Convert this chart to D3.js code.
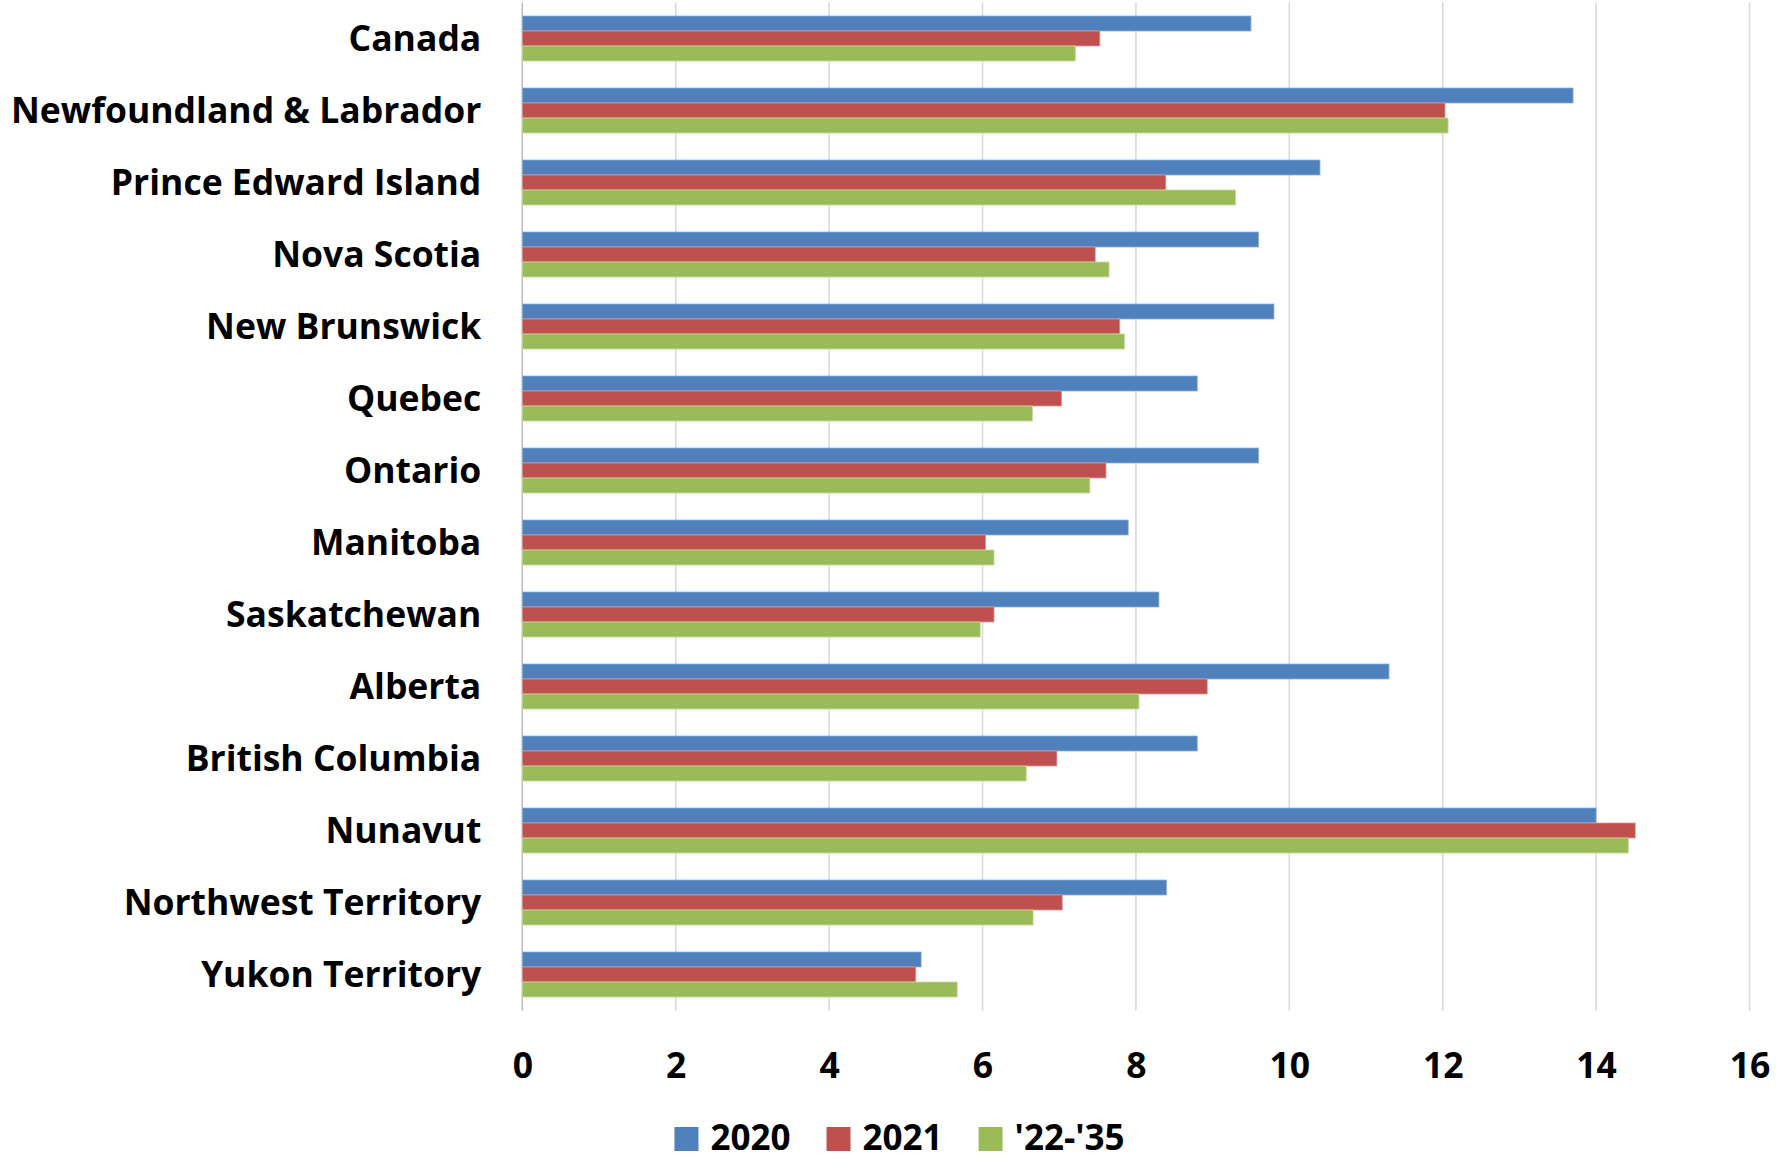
<!DOCTYPE html>
<html>
<head>
<meta charset="utf-8">
<script src="https://cdn.jsdelivr.net/npm/d3@7"></script>
<style>
  html, body { margin: 0; padding: 0; background: #fff; }
  svg { display: block; }
  text { font-family: "Open Sans", Lato, sans-serif; font-weight: bold; fill: #000; }
</style>
</head>
<body>
<svg id="chart" width="1788" height="1160"></svg>
<script>
const categories = ["Canada", "Newfoundland & Labrador", "Prince Edward Island", "Nova Scotia",
  "New Brunswick", "Quebec", "Ontario", "Manitoba", "Saskatchewan", "Alberta",
  "British Columbia", "Nunavut", "Northwest Territory", "Yukon Territory"];
const seriesNames = ["2020", "2021", "'22-'35"];
const values2020 = [9.5, 13.7, 10.4, 9.6, 9.8, 8.8, 9.6, 7.9, 8.3, 11.3, 8.8, 14.0, 8.4, 5.2];
const values2021 = [7.53, 12.03, 8.39, 7.47, 7.79, 7.03, 7.61, 6.04, 6.15, 8.93, 6.97, 14.51, 7.04, 5.13];
const values2235 = [7.21, 12.07, 9.3, 7.65, 7.85, 6.65, 7.4, 6.15, 5.97, 8.04, 6.57, 14.42, 6.66, 5.67];
const xTicks = [0, 2, 4, 6, 8, 10, 12, 14, 16];
const colors = ["#4F81BD", "#C0504D", "#9BBB59"];
const strokes = ["#8FB0D8", "#DC9896", "#C5DB9C"];

const seriesValues = [values2020, values2021, values2235];
const rows = categories.map((c, i) => ({
  cat: c,
  vals: seriesNames.map((s, j) => ({ s, j, v: seriesValues[j][i] }))
}));

const FONT = "'Open Sans', Lato, sans-serif";
const svg = d3.select("#chart");
const mLeft = 522.3, mRight = 1749.5, mTop = 2.5, mBottom = 1010.5;

const x = d3.scaleLinear().domain([0, 16]).range([mLeft, mRight]);
const y0 = d3.scaleBand().domain(categories).range([mTop, mBottom]).paddingInner(0.375).paddingOuter(0.1875);
const y1 = d3.scaleBand().domain(seriesNames).range([0, y0.bandwidth()]);

// gridlines
svg.append("g").selectAll("line").data(xTicks).join("line")
  .attr("x1", d => x(d)).attr("x2", d => x(d))
  .attr("y1", mTop).attr("y2", mBottom)
  .attr("stroke", d => d === 0 ? "#BFBFBF" : "#D9D9D9")
  .attr("stroke-width", 1.6);

// bars
const g = svg.append("g").selectAll("g").data(rows).join("g")
  .attr("transform", d => `translate(0,${y0(d.cat)})`);
g.selectAll("rect").data(d => d.vals).join("rect")
  .attr("x", x(0))
  .attr("y", d => y1(d.s))
  .attr("width", d => x(d.v) - x(0))
  .attr("height", y1.bandwidth())
  .attr("fill", d => colors[d.j])
  .attr("stroke", d => strokes[d.j])
  .attr("stroke-width", 0.8);

// category labels
const yAxis = d3.axisLeft(y0).tickSize(0).tickPadding(41);
const ya = svg.append("g").attr("transform", `translate(${x(0)},0)`).call(yAxis);
ya.select(".domain").remove();
ya.selectAll("text").attr("font-size", 35.5).attr("font-family", FONT)
  .attr("font-weight", "bold").attr("fill", "#000").attr("dy", "0.35em");

// x axis tick labels
const xAxis = d3.axisBottom(x).tickValues(xTicks).tickSize(0).tickPadding(0).tickFormat(d3.format("d"));
const xa = svg.append("g").attr("transform", `translate(0,1078)`).call(xAxis);
xa.select(".domain").remove();
xa.selectAll("text").attr("font-size", 35.5).attr("font-family", FONT)
  .attr("font-weight", "bold").attr("fill", "#000").attr("y", 0).attr("dy", 0);

// legend
const legend = svg.append("g");
const items = legend.selectAll("g").data(seriesNames).join("g");
items.append("rect").attr("width", 24).attr("height", 24).attr("y", -23)
  .attr("fill", (d, i) => colors[i]);
items.append("text").attr("x", 36).attr("y", 0).attr("font-size", 35)
  .attr("font-family", FONT).text(d => d);
let cx = 0;
items.each(function () {
  const w = this.getBBox().width;
  d3.select(this).attr("transform", `translate(${cx},0)`);
  cx += w + 36;
});
const total = cx - 36;
legend.attr("transform", `translate(${899.5 - total / 2},1150)`);
</script>
</body>
</html>
